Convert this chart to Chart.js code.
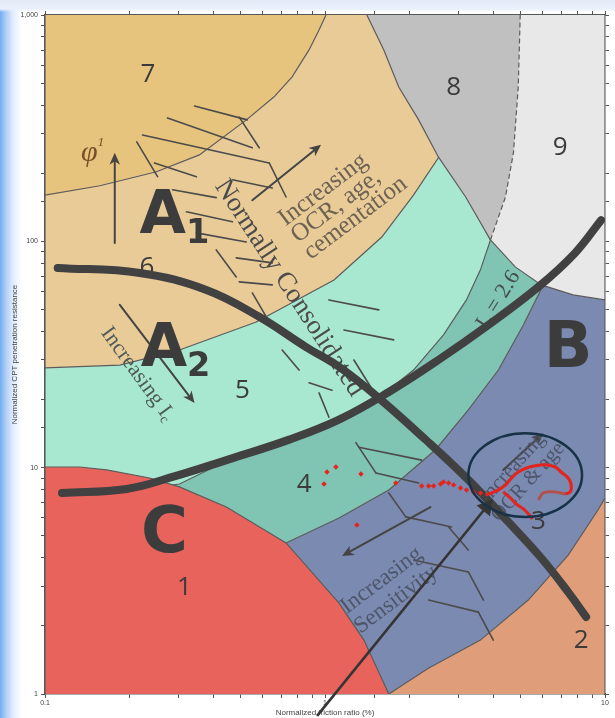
<!DOCTYPE html>
<html>
<head>
<meta charset="utf-8">
<title>CPT soil behaviour type chart</title>
<script src="https://cdn.jsdelivr.net/npm/chart.js@4.4.1/dist/chart.umd.min.js"></script>
<style>
  html, body { margin: 0; padding: 0; }
  body {
    width: 615px; height: 718px; overflow: hidden;
    background:
      linear-gradient(to bottom, #e3ebf8 0px, #ebf1fb 9px, rgba(255,255,255,0) 12px),
      linear-gradient(to right, #72acf1 0px, #a6c9f6 5px, #e2edfc 13px, #ffffff 22px);
  }
  #wrap { position: absolute; left: 0; top: 0; width: 615px; height: 718px; }
</style>
</head>
<body>
<div id="wrap"><canvas id="chart" width="615" height="718"></canvas></div>
<script>
// Axis ticks
const frictionTicks = [0.1, 1, 10];
const frictionTickLabels = ['0.1', '1', '10'];
const resistanceTicks = [1, 10, 100, 1000];
const resistanceTickLabels = ['1', '10', '100', '1,000'];

// Zone outlines as [friction ratio %, normalized resistance]
const zone2 = [[0.1, 1], [0.1, 1000], [10, 1000], [10, 1]];
const zone3 = [[0.1, 1000], [0.1, 1], [1.69, 1], [2.34, 1.30], [3.59, 1.73], [5.32, 2.60], [7.39, 4.11], [9.44, 6.50], [10, 7.35], [10, 1000]];
const zone4 = [[0.1, 1000], [0.1, 1], [0.726, 4.65], [1.122, 5.99], [1.69, 7.97], [2.48, 12.0], [3.25, 18.0], [4.16, 27.0], [5.11, 42.7], [6.02, 64.2], [10, 91.6], [10, 1000]];
const zone5 = [[0.1, 1000], [0.1, 1], [0.185, 7.81], [0.302, 8.47], [0.396, 9.97], [0.568, 11.7], [0.808, 13.5], [1.122, 16.3], [1.557, 20.3], [2.07, 27.0], [2.65, 38.6], [3.20, 55.1], [3.59, 74.8], [3.90, 101.4], [4.90, 1000]];
const zone6 = [[0.1, 1000], [0.1, 27.6], [0.185, 28.4], [0.302, 33.1], [0.568, 44.0], [1.077, 67.5], [1.595, 104.5], [2.07, 160], [2.54, 234], [3.25, 1000]];
const zone7 = [[0.1, 1000], [0.1, 160], [0.157, 176], [0.250, 203], [0.356, 241], [0.524, 344], [0.658, 435], [0.763, 533], [0.877, 701], [0.952, 859], [1.008, 1000]];
const zone9 = [[1.42, 1000], [3.90, 101.4], [4.78, 77.1], [5.92, 64.2], [7.69, 58.0], [10, 55.1], [10, 1000]];
const zone8 = [[1.411, 1000], [1.622, 701], [1.834, 481], [2.160, 344], [2.54, 236], [3.18, 157], [3.90, 101.4], [4.41, 157], [4.71, 246], [4.90, 481], [4.98, 1000]];
const zone1 = [[0.1, 1], [0.1, 10.07], [0.133, 10.07], [0.166, 9.77], [0.2365, 9.00], [0.302, 8.22], [0.4445, 6.70], [0.726, 4.65], [1.122, 2.52], [1.377, 1.73], [1.69, 1]];

// Edges of zone 8 (left solid, right dashed)
const zone8Left = [[1.411, 1000], [1.622, 701], [1.834, 481], [2.160, 344], [2.54, 236], [3.18, 157], [3.90, 101.4]];
const zone8Right = [[3.90, 101.4], [4.41, 157], [4.71, 246], [4.90, 481], [4.98, 1000]];

// Heavy boundary lines
const risingLine = [[0.115, 7.73], [0.1957, 8.05], [0.2855, 9.10], [0.4445, 10.8], [0.745, 13.3], [1.122, 16.3], [1.69, 21.6], [2.54, 29.9], [3.83, 42.7], [5.78, 62.9], [7.82, 88.9], [9.68, 124]];
const fallingLine = [[0.111, 76.3], [0.218, 72.5], [0.377, 61.0], [0.582, 46.4], [0.856, 34.1], [1.122, 27.9], [1.557, 20.3], [2.287, 13.3], [3.25, 8.83], [4.52, 5.75], [5.92, 3.99], [7.39, 2.82], [8.56, 2.19]];

// Measured CPT data
const cptPointsX = [1.0165, 1.094, 0.992, 1.344, 1.790, 2.214, 2.345, 2.443, 2.587, 2.651, 2.762, 2.878, 3.048, 3.201, 3.390, 3.591, 1.300];
const cptPointsY = [9.57, 10.07, 8.47, 9.38, 8.55, 8.30, 8.30, 8.30, 8.47, 8.65, 8.55, 8.39, 8.13, 7.97, 7.81, 7.73, 5.58];
const cptTrace = [[3.74, 7.57], [3.93, 7.73], [4.16, 7.97], [4.41, 8.39], [4.63, 9.00], [4.90, 9.57], [5.24, 9.97], [5.64, 10.2], [6.12, 10.3], [6.64, 10.07], [6.97, 9.57], [7.39, 9.00], [7.57, 8.39], [7.51, 7.81], [7.21, 7.65]];
const cptBranch = [[4.33, 7.81], [4.59, 7.35], [4.82, 6.91], [5.11, 6.57], [5.37, 6.18], [5.50, 5.93]];
const cptTail = [[7.21, 7.65], [6.64, 7.81], [6.02, 7.73], [5.78, 7.20]];

// Pointer arrow from below the axis
const pointerLine = [[0.937, 0.80], [3.772, 6.70]];
const pointerHead = [[3.772, 6.70]];

// Circled area: xMin, xMax, yMin, yMax
const ellipseBox = [3.25, 8.28, 6.06, 14.2];

// Hatching of the normally consolidated band: x1, y1, x2, y2
const hatchSegments = [
  [0.342, 396, 0.528, 344], [0.274, 351, 0.550, 259], [0.223, 295, 0.632, 222], [0.632, 222, 0.726, 157],
  [0.2126, 275, 0.2524, 193], [0.246, 222, 0.3475, 193], [0.494, 354, 0.582, 259], [0.2855, 169, 0.409, 156],
  [0.320, 135, 0.467, 122], [0.3475, 109, 0.5235, 99.4], [0.467, 187, 0.648, 172], [0.409, 91.6, 0.482, 69.6],
  [0.482, 84.5, 0.648, 80.3], [0.494, 66.2, 0.648, 64.2], [0.550, 59.2, 0.617, 46.4], [0.703, 33.1, 0.808, 27.0],
  [0.877, 23.7, 1.059, 22.0], [0.952, 21.4, 1.033, 16.7], [1.033, 55.1, 1.557, 49.8], [1.169, 40.6, 1.760, 36.7],
  [1.268, 29.9, 1.557, 19.9], [1.289, 12.9, 1.519, 9.48], [1.519, 9.48, 2.160, 8.55], [1.69, 7.73, 1.943, 6.06],
  [1.943, 6.06, 2.831, 5.47], [1.321, 12.3, 2.214, 10.8], [2.762, 5.47, 3.25, 4.33], [2.074, 3.91, 3.25, 3.46],
  [2.345, 2.60, 3.53, 2.30], [3.25, 3.46, 3.68, 2.60], [3.53, 2.30, 3.99, 1.73]
];

// Text on the chart
const zoneNumbers = ['7', '8', '9', '6', '5', '4', '3', '2', '1'];
const zoneNumberAt = [[0.233, 543], [2.88, 476], [6.92, 259], [0.231, 76.3], [0.507, 22.0], [0.842, 8.39], [5.78, 5.75], [8.22, 1.73], [0.315, 2.94]];
const groupLabels = ['A_1', 'A_2', 'B', 'C'];
const groupLabelAt = [[0.290, 127], [0.2926, 33.1], [7.39, 33.1], [0.267, 5.04]];

const styles = {
  number: { family: "'Open Sans'", size: 26, color: '#3b3b3b' },
  group: { family: "'DejaVu Sans'", weight: 'bold', size: 60, color: '#3c3c3c', subScale: 0.56, subDrop: 0.28 },
  big: { family: "'DejaVu Sans'", weight: 'bold', size: 64, color: '#3c3c3c' },
  nc: { family: "'Liberation Serif'", size: 27, color: '#4b4b4b' },
  ocr: { family: "'Liberation Serif'", size: 25, color: '#6d6252', gap: 21, align: 'left' },
  ic: { family: "'Liberation Serif'", size: 22, color: '#4d5a57' },
  ic26: { family: "'Liberation Serif'", size: 22, color: '#454f4d' },
  sens: { family: "'Liberation Serif'", size: 23, color: '#4d556b', gap: 24 },
  age: { family: "'Liberation Serif'", size: 21, color: '#4d556b', gap: 21 },
  phi: { family: "'Liberation Serif'", italic: true, size: 30, color: '#7b4f2b', subScale: 0.45 }
};

const notes = [
  { lines: ['Normally Consolidated'], at: [0.745, 62.2], angle: 57, style: 'nc' },
  { lines: ['Increasing', 'OCR, age,', 'cementation'], at: [0.776, 103.5], angle: -37, style: 'ocr' },
  { lines: ['Increasing I_c'], at: [0.2143, 25.9], angle: 54, style: 'ic' },
  { lines: ['I_c = 2.6'], at: [4.16, 55.1], angle: -58, style: 'ic26' },
  { lines: ['Increasing', 'Sensitivity'], at: [1.69, 2.88], angle: -37, style: 'sens' },
  { lines: ['Increasing', 'OCR & age'], at: [4.98, 9.29], angle: -48, style: 'age' },
  { lines: ['φ^1'], at: [0.148, 246], angle: 0, style: 'phi' }
];

const noteArrows = [
  { from: [0.1775, 98.4], to: [0.1775, 246] },
  { from: [0.550, 152], to: [0.968, 267] },
  { from: [0.185, 52.4], to: [0.342, 19.3] },
  { from: [2.38, 6.70], to: [1.15, 4.07] },
  { from: [4.33, 9.77], to: [6.02, 14.2] }
];

const pts = arr => arr.map(([x, y]) => ({ x, y }));

function splitRich(str) {
  const out = [];
  let buf = '';
  for (let i = 0; i < str.length; i++) {
    const ch = str[i];
    if ((ch === '_' || ch === '^') && i + 1 < str.length) {
      if (buf) out.push({ t: buf, k: 0 });
      buf = '';
      out.push({ t: str[i + 1], k: ch === '_' ? 1 : -1 });
      i++;
    } else {
      buf += ch;
    }
  }
  if (buf) out.push({ t: buf, k: 0 });
  return out;
}

function drawRich(ctx, str, x, y, st) {
  const segs = splitRich(str);
  const small = st.size * (st.subScale || 0.62);
  const fontOf = s => `${st.italic ? 'italic ' : ''}${st.weight || 'normal'} ${s}px ${st.family}`;
  let total = 0;
  segs.forEach(s => {
    ctx.font = fontOf(s.k ? small : st.size);
    s.w = ctx.measureText(s.t).width;
    total += s.w;
  });
  let cx = st.align === 'left' ? x : x - total / 2;
  segs.forEach(s => {
    ctx.font = fontOf(s.k ? small : st.size);
    const dy = s.k === 1 ? st.size * (st.subDrop || 0.25) : (s.k === -1 ? -st.size * 0.35 : 0);
    ctx.fillText(s.t, cx, y + dy);
    cx += s.w;
  });
}

function drawText(ctx, lines, at, angle, st) {
  ctx.save();
  ctx.translate(at[0], at[1]);
  ctx.rotate(angle * Math.PI / 180);
  ctx.fillStyle = st.color;
  ctx.textBaseline = 'middle';
  ctx.textAlign = 'left';
  lines.forEach((line, i) => {
    const dy = (i - (lines.length - 1) / 2) * (st.gap || st.size);
    drawRich(ctx, line, 0, dy, st);
  });
  ctx.restore();
}

function drawArrow(ctx, a, b) {
  const ang = Math.atan2(b[1] - a[1], b[0] - a[0]);
  const head = 13;
  ctx.strokeStyle = '#444';
  ctx.fillStyle = '#444';
  ctx.lineWidth = 2;
  ctx.beginPath();
  ctx.moveTo(a[0], a[1]);
  ctx.lineTo(b[0] - Math.cos(ang) * head * 0.6, b[1] - Math.sin(ang) * head * 0.6);
  ctx.stroke();
  ctx.beginPath();
  ctx.moveTo(b[0], b[1]);
  ctx.lineTo(b[0] - head * Math.cos(ang - 0.42), b[1] - head * Math.sin(ang - 0.42));
  ctx.lineTo(b[0] - head * 0.65 * Math.cos(ang), b[1] - head * 0.65 * Math.sin(ang));
  ctx.lineTo(b[0] - head * Math.cos(ang + 0.42), b[1] - head * Math.sin(ang + 0.42));
  ctx.closePath();
  ctx.fill();
}

const overlay = {
  id: 'overlay',
  beforeDatasetDraw(chart, args) {
    if (chart.data.datasets[args.index].label !== 'Rising boundary') return;
    const ctx = chart.ctx;
    const xs = chart.scales.x, ys = chart.scales.y;
    const P = (x, y) => [xs.getPixelForValue(x), ys.getPixelForValue(y)];
    ctx.save();
    ctx.strokeStyle = '#4b4b4b';
    ctx.lineWidth = 1.6;
    ctx.lineCap = 'round';
    hatchSegments.forEach(([x1, y1, x2, y2]) => {
      const a = P(x1, y1), b = P(x2, y2);
      ctx.beginPath();
      ctx.moveTo(a[0], a[1]);
      ctx.lineTo(b[0], b[1]);
      ctx.stroke();
    });
    noteArrows.forEach(n => drawArrow(ctx, P(...n.from), P(...n.to)));
    zoneNumbers.forEach((t, i) => drawText(ctx, [t], P(...zoneNumberAt[i]), 0, styles.number));
    groupLabels.forEach((t, i) => drawText(ctx, [t], P(...groupLabelAt[i]), 0, t.length > 1 ? styles.group : styles.big));
    notes.forEach(n => drawText(ctx, n.lines, P(...n.at), n.angle, styles[n.style]));
    ctx.restore();
  },
  afterDatasetsDraw(chart) {
    const ctx = chart.ctx;
    const xs = chart.scales.x, ys = chart.scales.y;
    const x1 = xs.getPixelForValue(ellipseBox[0]), x2 = xs.getPixelForValue(ellipseBox[1]);
    const y1 = ys.getPixelForValue(ellipseBox[2]), y2 = ys.getPixelForValue(ellipseBox[3]);
    ctx.save();
    ctx.strokeStyle = '#173247';
    ctx.lineWidth = 2.5;
    ctx.beginPath();
    ctx.ellipse((x1 + x2) / 2, (y1 + y2) / 2, Math.abs(x2 - x1) / 2, Math.abs(y2 - y1) / 2, 0, 0, Math.PI * 2);
    ctx.stroke();
    ctx.restore();
  }
};

const zones = [
  { label: 'Zone 2', outline: zone2, color: '#df9d79' },
  { label: 'Zone 3', outline: zone3, color: '#7b8ab0' },
  { label: 'Zone 4', outline: zone4, color: '#80c4b4' },
  { label: 'Zone 5', outline: zone5, color: '#a9e8d0' },
  { label: 'Zone 6', outline: zone6, color: '#e9cb98' },
  { label: 'Zone 7', outline: zone7, color: '#e7c47d' },
  { label: 'Zone 9', outline: zone9, color: '#e8e8e8' },
  { label: 'Zone 8', outline: zone8, color: '#c0c0c0', edge: 0 },
  { label: 'Zone 1', outline: zone1, color: '#e8635b' }
];

const zoneDatasets = zones.map((z, i) => ({
  label: z.label,
  data: pts(z.outline),
  fill: 'shape',
  backgroundColor: z.color,
  borderColor: '#5c5c5c',
  borderWidth: z.edge === 0 ? 0 : 1.2,
  pointRadius: 0,
  tension: 0,
  order: 40 - i
}));

const edge = (label, data, dash, order) => ({
  label, data: pts(data), fill: false, borderColor: '#5c5c5c', borderWidth: 1.2,
  borderDash: dash, pointRadius: 0, tension: 0, order
});

const heavy = (label, data, order) => ({
  label, data: pts(data), fill: false, borderColor: '#414141', borderWidth: 8,
  borderCapStyle: 'round', pointRadius: 0, tension: 0.4, order
});

const datasets = [
  ...zoneDatasets,
  edge('Zone 8 edge', zone8Left, [], 32.6),
  edge('Zone 8/9 edge', zone8Right, [5, 3], 32.5),
  heavy('Rising boundary', risingLine, 11),
  heavy('Falling boundary', fallingLine, 10),
  { label: 'CPT tail', data: pts(cptTail), fill: false, borderColor: '#b2524c', borderWidth: 3, pointRadius: 0, tension: 0.3, order: 9 },
  { label: 'CPT branch', data: pts(cptBranch), fill: false, borderColor: '#e4241f', borderWidth: 3, pointRadius: 0, tension: 0.3, order: 8 },
  { label: 'CPT trace', data: pts(cptTrace), fill: false, borderColor: '#e4241f', borderWidth: 3.2, pointRadius: 0, tension: 0.35, order: 7 },
  {
    label: 'CPT points', data: cptPointsX.map((x, i) => ({ x, y: cptPointsY[i] })), showLine: false, fill: false,
    pointStyle: 'rectRot', pointRadius: 2.7, backgroundColor: '#e4241f', borderWidth: 0, order: 6
  },
  { label: 'Pointer', data: pts(pointerLine), fill: false, borderColor: '#353535', borderWidth: 2.6, pointRadius: 0, clip: false, order: 5 },
  {
    label: 'Pointer head', data: pts(pointerHead), showLine: false, fill: false, pointStyle: 'triangle',
    pointRotation: 39, pointRadius: 10, backgroundColor: '#353535', borderWidth: 0, clip: false, order: 4
  }
];

const tickLabel = (ticks, labels) => value => {
  const i = ticks.findIndex(t => Math.abs(Math.log10(t) - Math.log10(value)) < 1e-6);
  return i >= 0 ? labels[i] : '';
};

const axisBase = {
  type: 'logarithmic',
  grid: { drawOnChartArea: false, tickLength: 4, color: '#555', lineWidth: 1 },
  border: { color: '#555', width: 1.5 }
};

new Chart(document.getElementById('chart'), {
  type: 'line',
  data: { datasets },
  options: {
    responsive: false,
    animation: false,
    events: [],
    layout: { padding: 0 },
    plugins: { legend: { display: false }, tooltip: { enabled: false } },
    scales: {
      x: {
        ...axisBase, position: 'bottom', min: 0.1, max: 10,
        ticks: { autoSkip: false, maxRotation: 0, padding: 1, color: '#444', font: { size: 7 }, callback: tickLabel(frictionTicks, frictionTickLabels) },
        title: { display: true, text: 'Normalized friction ratio (%)', color: '#444', font: { size: 8 }, padding: 0 },
        afterFit: s => { s.height = 24; }
      },
      x2: {
        ...axisBase, position: 'top', min: 0.1, max: 10,
        ticks: { display: false },
        afterFit: s => { s.height = 15; }
      },
      y: {
        ...axisBase, position: 'left', min: 1, max: 1000,
        ticks: { autoSkip: false, padding: 3, color: '#444', font: { size: 7 }, callback: tickLabel(resistanceTicks, resistanceTickLabels) },
        title: { display: true, text: 'Normalized CPT penetration resistance', color: '#444', font: { size: 8 }, padding: { top: 10, bottom: 0 } },
        afterFit: s => { s.width = 45; }
      },
      y2: {
        ...axisBase, position: 'right', min: 1, max: 1000,
        ticks: { display: false },
        afterFit: s => { s.width = 8; }
      }
    }
  },
  plugins: [overlay]
});
</script>
</body>
</html>
